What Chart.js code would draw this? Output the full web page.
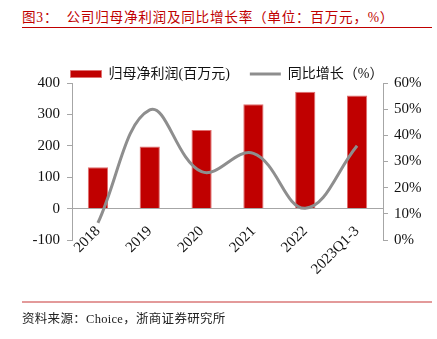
<!DOCTYPE html>
<html lang="zh">
<head>
<meta charset="UTF-8">
<title>归母净利润及同比增长率</title>
<script src="https://cdn.jsdelivr.net/npm/chart.js"></script>
<style>
    body {
        margin: 0;
        background: #ffffff;
        font-family: 'Liberation Serif', 'Noto Sans CJK SC', serif;
    }
    .page {
        position: relative;
        width: 437px;
        height: 339px;
        overflow: hidden;
    }
    .titulo {
        position: absolute;
        left: 22px;
        top: 6px;
        font-size: 13.6px;
        letter-spacing: 0.75px;
        color: #c00000;
        white-space: nowrap;
    }
    .linea-titulo {
        position: absolute;
        left: 22px;
        top: 27px;
        width: 410px;
        height: 1px;
        background: #c00000;
    }
    .linea-pie {
        position: absolute;
        left: 22px;
        top: 301px;
        width: 410px;
        height: 2px;
        background: #e39a9a;
    }
    .fuente {
        position: absolute;
        left: 22px;
        top: 308px;
        font-size: 12.5px;
        letter-spacing: 0.3px;
        color: #222;
        white-space: nowrap;
    }
    .grafico {
        position: absolute;
        left: 0;
        top: 0;
        width: 437px;
        height: 339px;
    }
</style>
</head>
<body>
<div class="page">
    <div class="titulo">图3：&nbsp; 公司归母净利润及同比增长率（单位：百万元，%）</div>
    <div class="linea-titulo"></div>
    <div class="grafico"><canvas id="grafico" width="437" height="339"></canvas></div>
    <div class="linea-pie"></div>
    <div class="fuente">资料来源：Choice，浙商证券研究所</div>
</div>

<script>
    // datos
    const categorias = ['2018', '2019', '2020', '2021', '2022', '2023Q1-3'];
    const beneficio = [132, 198, 250, 332, 372, 360];
    const crecimiento = [6.5, 49.7, 26.1, 33.1, 12.1, 36.0];
    const ticksIzq = [-100, 0, 100, 200, 300, 400];
    const ticksDer = [0, 10, 20, 30, 40, 50, 60];

    const fuenteEje = { family: "'Liberation Serif', 'Noto Sans CJK SC', serif", size: 15 };
    const gris = '#a6a6a6';

    new Chart(document.getElementById('grafico'), {
        data: {
            labels: categorias,
            datasets: [{
                type: 'bar',
                label: '归母净利润(百万元)',
                data: beneficio,
                backgroundColor: '#c00000',
                borderColor: '#e07070',
                borderWidth: 1,
                barPercentage: 0.39,
                categoryPercentage: 1,
                pointStyle: 'rect',
                yAxisID: 'y',
                order: 1
            }, {
                type: 'line',
                label: '同比增长（%）',
                data: crecimiento,
                borderColor: '#8e8e8e',
                backgroundColor: '#8e8e8e',
                borderWidth: 3,
                pointRadius: 0,
                tension: 0.4,
                pointStyle: 'line',
                yAxisID: 'y1',
                order: 0
            }]
        },
        options: {
            responsive: false,
            animation: false,
            layout: { padding: { left: 17, right: 0, top: 47, bottom: 99 } },
            plugins: {
                tooltip: { enabled: false },
                legend: {
                    position: 'top',
                    maxHeight: 36,
                    labels: {
                        usePointStyle: true,
                        pointStyleWidth: 31,
                        boxHeight: 7,
                        padding: 20,
                        color: '#111',
                        sort: (a, b) => a.datasetIndex - b.datasetIndex,
                        font: { family: "'Liberation Serif', 'Noto Sans CJK SC', serif", size: 14 }
                    }
                }
            },
            scales: {
                x: {
                    position: { y: 0 },
                    offset: true,
                    grid: { display: false },
                    border: { display: true, color: gris, width: 1 },
                    ticks: {
                        color: '#111',
                        font: fuenteEje,
                        minRotation: 45,
                        maxRotation: 45,
                        autoSkip: false,
                        padding: 6
                    }
                },
                y: {
                    position: 'left',
                    min: -100,
                    max: 400,
                    afterBuildTicks: s => { s.ticks = ticksIzq.map(v => ({ value: v })); },
                    afterFit: s => { s.width = 55; },
                    grid: { drawOnChartArea: false, drawTicks: true, tickLength: 5, color: gris },
                    border: { display: true, color: gris, width: 1 },
                    ticks: { color: '#111', font: fuenteEje, padding: 7 }
                },
                y1: {
                    position: 'right',
                    min: 0,
                    max: 60,
                    afterBuildTicks: s => { s.ticks = ticksDer.map(v => ({ value: v })); },
                    afterFit: s => { s.width = 54; },
                    grid: { drawOnChartArea: false, drawTicks: true, tickLength: 5, color: gris },
                    border: { display: true, color: gris, width: 1 },
                    ticks: { color: '#111', font: fuenteEje, padding: 6, callback: v => v + '%' }
                }
            }
        }
    });
</script>
</body>
</html>
